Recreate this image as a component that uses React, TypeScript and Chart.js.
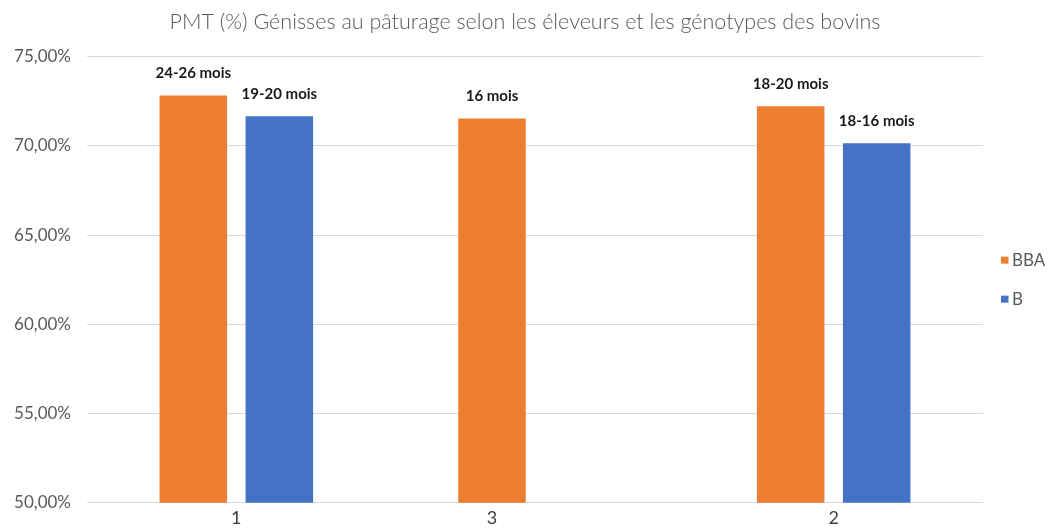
import { useEffect, useRef } from "react";
import { Chart, registerables } from "chart.js";

Chart.register(...registerables);

const categories = ["1", "3", "2"];
const seriesNames = ["BBA", "B"];
const bbaValues: (number | null)[] = [72.82, 71.53, 72.21];
const bValues: (number | null)[] = [71.66, null, 70.14];
const bbaLabels: (string | null)[] = ["24-26 mois", "16 mois", "18-20 mois"];
const bLabels: (string | null)[] = ["19-20 mois", null, "18-16 mois"];
const yMin = 50;
const yMax = 75;
const yStep = 5;
const title = "PMT (%) Génisses au pâturage selon les éleveurs et les génotypes des bovins";

const ORANGE = "#ED7D31";
const BLUE = "#4472C4";
const FONT = "Lato, 'Open Sans', sans-serif";

const titlePlugin = {
  id: "customTitle",
  afterDraw(chart: any) {
    const ctx = chart.ctx;
    ctx.save();
    ctx.font = `300 21.5px ${FONT}`;
    ctx.fillStyle = "#595959";
    ctx.textAlign = "center";
    ctx.textBaseline = "middle";
    ctx.fillText(title, chart.width / 2, 22);
    ctx.restore();
  },
};

const valueLabelPlugin = {
  id: "valueLabels",
  afterDatasetsDraw(chart: any) {
    const ctx = chart.ctx;
    const all = [bbaLabels, bLabels];
    ctx.save();
    ctx.font = `bold 15px ${FONT}`;
    ctx.fillStyle = "#1a1a1a";
    ctx.textAlign = "center";
    ctx.textBaseline = "middle";
    chart.data.datasets.forEach((_: any, di: number) => {
      const meta = chart.getDatasetMeta(di);
      meta.data.forEach((el: any, i: number) => {
        const txt = all[di][i];
        if (!txt || el.y == null || isNaN(el.y)) return;
        ctx.fillText(txt, el.x, el.y - 22);
      });
    });
    ctx.restore();
  },
};

const xLabelPlugin = {
  id: "xLabels",
  afterDraw(chart: any) {
    const ctx = chart.ctx;
    const xs = chart.scales.x;
    const m0 = chart.getDatasetMeta(0);
    ctx.save();
    ctx.font = `18px ${FONT}`;
    ctx.fillStyle = "#404040";
    ctx.textAlign = "center";
    ctx.textBaseline = "middle";
    categories.forEach((c, i) => {
      const x = bValues[i] == null ? m0.data[i].x : xs.getPixelForValue(i);
      ctx.fillText(c, x, chart.chartArea.bottom + 15);
    });
    ctx.restore();
  },
};

const legendPlugin = {
  id: "customLegend",
  afterDraw(chart: any) {
    const ctx = chart.ctx;
    const colors = [ORANGE, BLUE];
    const cy = (chart.chartArea.top + chart.chartArea.bottom) / 2;
    const gap = 39;
    const x0 = chart.chartArea.right + 18;
    ctx.save();
    ctx.font = `17px ${FONT}`;
    ctx.textAlign = "left";
    ctx.textBaseline = "middle";
    seriesNames.forEach((n, i) => {
      const y = cy - gap / 2 + i * gap;
      ctx.fillStyle = colors[i];
      ctx.fillRect(x0, y - 3.5, 7.5, 7);
      ctx.fillStyle = "#595959";
      ctx.fillText(n, x0 + 11, y);
    });
    ctx.restore();
  },
};

export default function App() {
  const ref = useRef<HTMLCanvasElement | null>(null);
  useEffect(() => {
    if (!ref.current) return;
    const chart = new Chart(ref.current, {
      type: "bar",
      data: {
        labels: categories,
        datasets: [
          {
            label: seriesNames[0],
            data: bbaValues,
            backgroundColor: ORANGE,
            barPercentage: 0.785,
            categoryPercentage: 0.576,
          },
          {
            label: seriesNames[1],
            data: bValues,
            backgroundColor: BLUE,
            barPercentage: 0.785,
            categoryPercentage: 0.576,
          },
        ],
      },
      options: {
        animation: false,
        responsive: true,
        maintainAspectRatio: false,
        layout: { padding: { left: 0, right: 67, top: 56.5, bottom: 22 } },
        plugins: {
          legend: { display: false },
          tooltip: { enabled: false },
          title: { display: false },
        },
        scales: {
          x: {
            display: false,
          },
          y: {
            min: yMin,
            max: yMax,
            ticks: {
              stepSize: yStep,
              padding: 16,
              color: "#595959",
              font: { family: FONT, size: 17 },
              callback: (v: any) => Number(v).toFixed(2).replace(".", ",") + "%",
            },
            grid: { color: "#D9D9D9", drawTicks: false, lineWidth: 1 },
            border: { display: false },
            afterFit: (s: any) => {
              s.width = 87;
            },
          },
        },
      },
      plugins: [titlePlugin, valueLabelPlugin, xLabelPlugin, legendPlugin],
    });
    return () => chart.destroy();
  }, []);
  return (
    <div style={{ position: "fixed", left: 0, top: 0, width: 1050, height: 529, background: "#fff" }}>
      <canvas ref={ref} />
    </div>
  );
}
